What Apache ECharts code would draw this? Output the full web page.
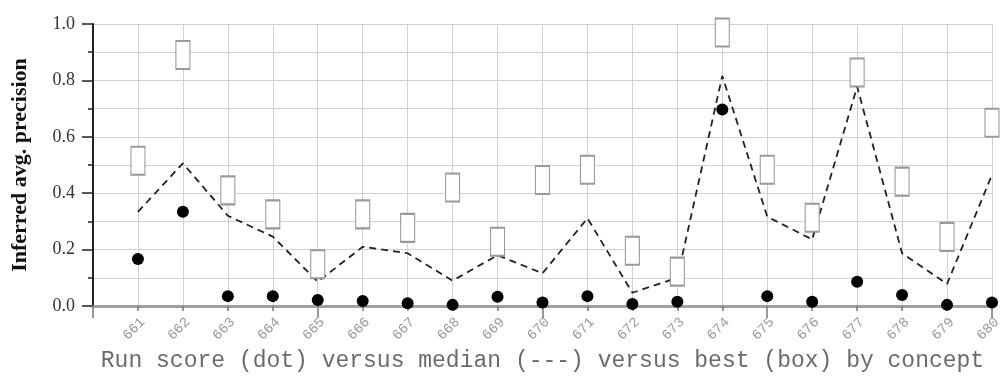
<!DOCTYPE html>
<html>
<head>
<meta charset="utf-8">
<script src="https://cdn.jsdelivr.net/npm/echarts@6/dist/echarts.min.js"></script>
<style>html,body{margin:0;padding:0;background:#fff;}#chart{width:1004px;height:382px;}</style>
</head>
<body>
<div id="chart"></div>
<script>
var concepts = [661, 662, 663, 664, 665, 666, 667, 668, 669, 670, 671, 672, 673, 674, 675, 676, 677, 678, 679, 680];
var runScore = [0.167, 0.334, 0.035, 0.035, 0.021, 0.018, 0.010, 0.004, 0.033, 0.012, 0.035, 0.007, 0.015, 0.697, 0.035, 0.015, 0.086, 0.039, 0.004, 0.012];
var medianScore = [0.334, 0.506, 0.320, 0.246, 0.086, 0.210, 0.187, 0.090, 0.180, 0.116, 0.311, 0.047, 0.100, 0.816, 0.317, 0.236, 0.778, 0.187, 0.078, 0.465];
var bestScore = [0.515, 0.890, 0.410, 0.325, 0.148, 0.325, 0.277, 0.420, 0.228, 0.447, 0.483, 0.196, 0.122, 0.970, 0.483, 0.313, 0.828, 0.441, 0.245, 0.650];
var yTicks = ['0.0', '0.2', '0.4', '0.6', '0.8', '1.0'];

function pairs(vals) { return concepts.map(function (c, i) { return [c, vals[i]]; }); }

var chart = echarts.init(document.getElementById('chart'), null, { renderer: 'canvas' });
chart.setOption({
  animation: false,
  backgroundColor: '#ffffff',
  grid: { left: 93, right: 0, top: 24, bottom: 76, containLabel: false },
  xAxis: [{
    type: 'value', min: 660, max: 680, interval: 1,
    name: 'Run score (dot) versus median (---) versus best (box) by concept',
    nameLocation: 'middle', nameGap: 43,
    nameTextStyle: { fontFamily: 'Liberation Mono', fontSize: 23, color: '#6a6a6a' },
    axisLine: { show: true, onZero: false, lineStyle: { color: '#a0a0a0', width: 3 } },
    axisTick: { show: true, length: 5, lineStyle: { color: '#777', width: 1.5 } },
    axisLabel: {
      rotate: 45, margin: 9, verticalAlign: 'top', fontFamily: 'Liberation Mono', fontSize: 14, color: '#9a9a9a',
      formatter: function (v) { return concepts.indexOf(v) >= 0 ? String(v) : ''; }
    },
    splitLine: { show: true, lineStyle: { color: '#d0d0d0', width: 1 } }
  }, {
    type: 'value', min: 660, max: 680, interval: 5, position: 'bottom',
    axisLine: { show: false }, axisLabel: { show: false }, splitLine: { show: false },
    axisTick: { show: true, length: 12, lineStyle: { color: '#777', width: 1.5 } }
  }],
  yAxis: {
    type: 'value', min: 0, max: 1, interval: 0.2,
    name: 'Inferred avg. precision', nameLocation: 'middle', nameGap: 62,
    nameTextStyle: { fontFamily: 'Liberation Serif', fontWeight: 'bold', fontSize: 22, color: '#111' },
    axisLine: { show: true, lineStyle: { color: '#222', width: 2 } },
    axisTick: { show: true, length: 11, lineStyle: { color: '#222', width: 1.5 } },
    minorTick: { show: true, splitNumber: 2, length: 5, lineStyle: { color: '#222', width: 1.5 } },
    axisLabel: {
      margin: 18, fontFamily: 'Liberation Serif', fontSize: 18, color: '#333',
      formatter: function (v) { return yTicks[Math.round(v * 5)]; }
    },
    splitLine: { show: true, lineStyle: { color: '#d0d0d0', width: 1 } },
    minorSplitLine: { show: true, lineStyle: { color: '#d0d0d0', width: 1 } }
  },
  series: [{
    name: 'median', type: 'line', data: pairs(medianScore), symbol: 'none', z: 2,
    lineStyle: { color: '#222', width: 1.8, type: [7, 5] }
  }, {
    name: 'best', type: 'scatter', data: pairs(bestScore), symbol: 'rect', symbolSize: [14, 28], z: 3,
    itemStyle: { color: '#ffffff', borderColor: '#999', borderWidth: 1.5, opacity: 1 }
  }, {
    name: 'run', type: 'scatter', data: pairs(runScore), symbol: 'circle', symbolSize: 12, z: 4,
    itemStyle: { color: '#000', opacity: 1 }
  }]
});
</script>
</body>
</html>
